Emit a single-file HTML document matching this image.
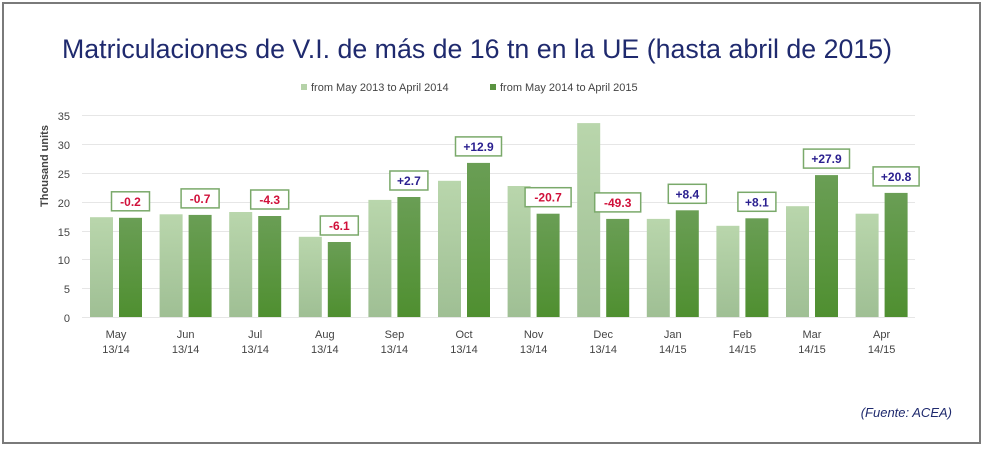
<!DOCTYPE html>
<html><head><meta charset="utf-8"><style>
html,body{margin:0;padding:0;background:#fff;}
svg{display:block;font-family:"Liberation Sans",sans-serif;}
</style></head><body>
<svg width="986" height="449" viewBox="0 0 986 449" xmlns="http://www.w3.org/2000/svg">
<defs>
<linearGradient id="gl" x1="0" y1="0" x2="0" y2="1"><stop offset="0" stop-color="#b9d6ac"/><stop offset="1" stop-color="#9fbf94"/></linearGradient>
<linearGradient id="gd" x1="0" y1="0" x2="0" y2="1"><stop offset="0" stop-color="#6a9e55"/><stop offset="1" stop-color="#4f8f30"/></linearGradient>
</defs>
<rect x="3" y="3" width="977" height="440" fill="#fff" stroke="#7a7a7a" stroke-width="2"/>
<text x="62" y="58" font-size="26.5" fill="#1f2a6e" textLength="830" lengthAdjust="spacingAndGlyphs">Matriculaciones de V.I. de más de 16 tn en la UE  (hasta abril de 2015)</text>
<rect x="301" y="84" width="6" height="6" fill="#b5d2a8"/>
<text x="311" y="91" font-size="11" fill="#444">from May 2013 to April 2014</text>
<rect x="490" y="84" width="6" height="6" fill="#5a9340"/>
<text x="500" y="91" font-size="11" fill="#444">from May 2014 to April 2015</text>
<g stroke="#e6e6e6" stroke-width="1">
<line x1="82" x2="915" y1="115.5" y2="115.5"/><line x1="82" x2="915" y1="144.5" y2="144.5"/><line x1="82" x2="915" y1="173.5" y2="173.5"/><line x1="82" x2="915" y1="202.5" y2="202.5"/><line x1="82" x2="915" y1="231.5" y2="231.5"/><line x1="82" x2="915" y1="259.5" y2="259.5"/><line x1="82" x2="915" y1="288.5" y2="288.5"/><line x1="82" x2="915" y1="317.5" y2="317.5"/>
</g>
<g font-size="11" fill="#444" text-anchor="end">
<text x="70" y="120">35</text><text x="70" y="149">30</text><text x="70" y="178">25</text><text x="70" y="207">20</text><text x="70" y="236">15</text><text x="70" y="264">10</text><text x="70" y="293">5</text><text x="70" y="322">0</text>
</g>
<text transform="translate(48,166) rotate(-90)" font-size="11" fill="#444" text-anchor="middle" font-weight="bold">Thousand units</text>
<g fill="url(#gl)">
<rect x="90" y="217.2" width="23" height="99.8"/>
<rect x="159.6" y="214.3" width="23" height="102.7"/>
<rect x="229.2" y="212" width="23" height="105"/>
<rect x="298.8" y="236.8" width="23" height="80.2"/>
<rect x="368.4" y="199.9" width="23" height="117.1"/>
<rect x="438" y="180.8" width="23" height="136.2"/>
<rect x="507.6" y="186" width="23" height="131"/>
<rect x="577.2" y="123.1" width="23" height="193.9"/>
<rect x="646.8" y="218.9" width="23" height="98.1"/>
<rect x="716.4" y="225.8" width="23" height="91.2"/>
<rect x="786" y="206.2" width="23" height="110.8"/>
<rect x="855.6" y="213.7" width="23" height="103.3"/>
</g>
<g fill="url(#gd)">
<rect x="119" y="217.8" width="23" height="99.2"/>
<rect x="188.6" y="214.9" width="23" height="102.1"/>
<rect x="258.2" y="216" width="23" height="101"/>
<rect x="327.8" y="242" width="23" height="75"/>
<rect x="397.4" y="197" width="23" height="120"/>
<rect x="467" y="162.9" width="23" height="154.1"/>
<rect x="536.6" y="213.7" width="23" height="103.3"/>
<rect x="606.2" y="218.9" width="23" height="98.1"/>
<rect x="675.8" y="210.3" width="23" height="106.7"/>
<rect x="745.4" y="218.3" width="23" height="98.7"/>
<rect x="815" y="175.1" width="23" height="141.9"/>
<rect x="884.6" y="192.9" width="23" height="124.1"/>
</g>
<g fill="#fff" stroke="#7aa96a" stroke-width="1.5">
<rect x="111.5" y="191.8" width="38" height="19"/>
<rect x="181.1" y="188.9" width="38" height="19"/>
<rect x="250.7" y="190" width="38" height="19"/>
<rect x="320.3" y="216" width="38" height="19"/>
<rect x="389.9" y="171" width="38" height="19"/>
<rect x="455.5" y="136.9" width="46" height="19"/>
<rect x="525.1" y="187.7" width="46" height="19"/>
<rect x="594.7" y="192.9" width="46" height="19"/>
<rect x="668.3" y="184.3" width="38" height="19"/>
<rect x="737.9" y="192.3" width="38" height="19"/>
<rect x="803.5" y="149.1" width="46" height="19"/>
<rect x="873.1" y="166.9" width="46" height="19"/>
</g>
<g font-size="12" font-weight="bold" text-anchor="middle">
<text x="130.5" y="205.8" fill="#d0103a">-0.2</text>
<text x="200.1" y="202.9" fill="#d0103a">-0.7</text>
<text x="269.7" y="204" fill="#d0103a">-4.3</text>
<text x="339.3" y="230" fill="#d0103a">-6.1</text>
<text x="408.9" y="185" fill="#2a1f8f">+2.7</text>
<text x="478.5" y="150.9" fill="#2a1f8f">+12.9</text>
<text x="548.1" y="201.7" fill="#d0103a">-20.7</text>
<text x="617.7" y="206.9" fill="#d0103a">-49.3</text>
<text x="687.3" y="198.3" fill="#2a1f8f">+8.4</text>
<text x="756.9" y="206.3" fill="#2a1f8f">+8.1</text>
<text x="826.5" y="163.1" fill="#2a1f8f">+27.9</text>
<text x="896.1" y="180.9" fill="#2a1f8f">+20.8</text>
</g>
<g font-size="11" fill="#444" text-anchor="middle">
<text x="116" y="338">May</text><text x="116" y="353">13/14</text>
<text x="185.6" y="338">Jun</text><text x="185.6" y="353">13/14</text>
<text x="255.2" y="338">Jul</text><text x="255.2" y="353">13/14</text>
<text x="324.8" y="338">Aug</text><text x="324.8" y="353">13/14</text>
<text x="394.4" y="338">Sep</text><text x="394.4" y="353">13/14</text>
<text x="464" y="338">Oct</text><text x="464" y="353">13/14</text>
<text x="533.6" y="338">Nov</text><text x="533.6" y="353">13/14</text>
<text x="603.2" y="338">Dec</text><text x="603.2" y="353">13/14</text>
<text x="672.8" y="338">Jan</text><text x="672.8" y="353">14/15</text>
<text x="742.4" y="338">Feb</text><text x="742.4" y="353">14/15</text>
<text x="812" y="338">Mar</text><text x="812" y="353">14/15</text>
<text x="881.6" y="338">Apr</text><text x="881.6" y="353">14/15</text>
</g>
<text x="952" y="417" font-size="13" font-style="italic" fill="#1f2a6e" text-anchor="end">(Fuente: ACEA)</text>
</svg>
</body></html>
